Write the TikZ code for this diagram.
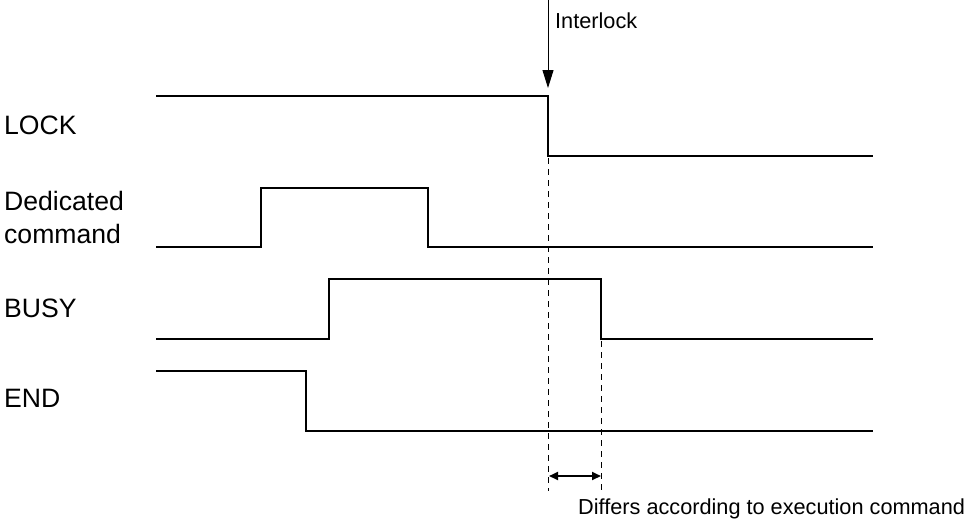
\documentclass[tikz,border=0pt]{standalone}
\usepackage{fontspec}
\setmainfont{Liberation Sans}
\usetikzlibrary{arrows.meta}
\begin{document}
\begin{tikzpicture}[x=1pt,y=-1pt,
  sig/.style={line width=2.5pt,line cap=butt,line join=miter},
  guide/.style={line width=1pt,dash pattern=on 6pt off 5pt},
  lbl/.style={font=\fontsize{26.6}{33}\selectfont,inner sep=0pt,anchor=base west,align=left},
  note/.style={font=\fontsize{21.7}{26}\selectfont,inner sep=0pt,anchor=base west},
  marker/.style={line width=1pt,-{Triangle[length=18pt,width=11pt]}},
  span/.style={line width=2pt,{Triangle[length=9pt,width=8pt]}-{Triangle[length=9pt,width=8pt]}}]
\useasboundingbox (0,0) rectangle (967,520);
% labels
\node[lbl] (lock) at (4,134) {LOCK};
\node[lbl] (ded) at (4,243) {Dedicated\\command};
\node[lbl] (busy) at (4,317) {BUSY};
\node[lbl] (endl) at (4,407) {END};
\node[note] (ilk) at (555,28) {Interlock};
\node[note] (diff) at (578,514) {Differs according to execution command};
% signals
\draw[sig] (156,96) -- (548,96) -- (548,156) -- (873,156);
\draw[sig] (156,247) -- (261,247) -- (261,188) -- (428,188) -- (428,247) -- (873,247);
\draw[sig] (156,339) -- (329,339) -- (329,279) -- (601,279) -- (601,339) -- (873,339);
\draw[sig] (156,371) -- (306,371) -- (306,431) -- (873,431);
% guides
\coordinate (g1t) at (548,158);
\coordinate (g1b) at (548,491);
\coordinate (g2t) at (601,341);
\coordinate (g2b) at (601,491);
\draw[guide] (g1t) -- (g1b);
\draw[guide] (g2t) -- (g2b);
% interlock arrow
\coordinate (atop) at (548,0);
\coordinate (atip) at (548,88);
\draw[marker] (atop) -- (atip);
% span arrow
\coordinate (s1) at (549,476);
\coordinate (s2) at (601,476);
\draw[span] (s1) -- (s2);
\end{tikzpicture}
\end{document}
